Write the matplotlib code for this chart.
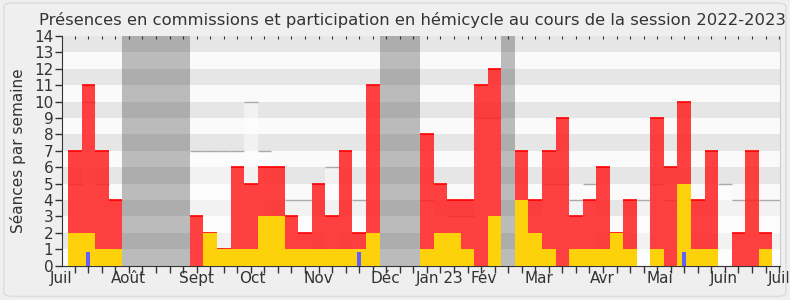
import numpy as np
import matplotlib
matplotlib.use('Agg')
import matplotlib.pyplot as plt
from matplotlib.patches import FancyBboxPatch
from matplotlib.transforms import blended_transform_factory

# one value per week, from the week of 4 July 2022
presences = [7, 11, 7, 4, 0, 0, 0, 0, 0, 3, 2, 1, 6, 5, 6, 6, 3, 2, 5, 3, 7, 2, 11, 0, 0, 0,
             8, 5, 4, 4, 11, 12, 0, 7, 4, 7, 9, 3, 4, 6, 2, 4, 0, 9, 6, 10, 4, 7, 0, 2, 7, 2, 0]
hemicycle = [2, 2, 1, 1, 0, 0, 0, 0, 0, 0, 2, 1, 1, 1, 3, 3, 1, 1, 1, 1, 1, 1, 2, 0, 0, 0,
             1, 2, 2, 1, 0, 3, 0, 4, 2, 1, 0, 1, 1, 1, 2, 1, 0, 1, 0, 5, 1, 1, 0, 0, 0, 1, 0]
questions = [0, 0.85, 0, 0, 0, 0, 0, 0, 0, 0, 0, 0, 0, 0, 0, 0, 0, 0, 0, 0, 0, 0.85, 0, 0, 0, 0,
             0, 0, 0, 0, 0, 0, 0, 0, 0, 0, 0, 0, 0, 0, 0, 0, 0, 0, 0, 0.85, 0, 0, 0, 0, 0, 0, 0]
mediane = [5, 10, 5, 4, 0, 0, 0, 0, 0, 7, 7, 7, 7, 10, 7, 0, 4, 4, 0, 6, 0, 4, 0, 0, 0, 0,
           4, 0, 3, 3, 9, 9, 0, 0, 0, 5, 5, 4, 5, 0, 0, 0, 4, 5, 4, 0, 0, 0, 5, 4, 4, 4, 4]
vacances = [(4, 9), (23, 26), (32, 33)]

mois = ['Juil', 'Août', 'Sept', 'Oct', 'Nov', 'Déc', 'Jan 23', 'Fév', 'Mar', 'Avr', 'Mai', 'Juin', 'Juil']
mois_pos = [-0.5, 4.45, 9.5, 13.6, 18.5, 23.45, 27.45, 30.7, 34.75, 39.45, 43.7, 48.45, 52.5]

x = np.arange(len(presences))
txt = '#333333'

fig = plt.figure(figsize=(7.9, 3.0), dpi=100, facecolor='#efefef')
fig.patches.append(FancyBboxPatch((0.005, 0.012), 0.99, 0.978, boxstyle='round,pad=0,rounding_size=0.012',
                                  transform=fig.transFigure, facecolor='none', edgecolor='#dcdcdc', lw=1))
ax = fig.add_axes([0.078, 0.1143, 0.909, 0.7657])

for k in range(14):
    ax.axhspan(k, k + 1, color='#e6e6e6' if k % 2 else '#fafafa', lw=0, zorder=0)

for a, b in vacances:
    ax.axvspan(a, b, color='#2a2a2a', alpha=0.3, lw=0, zorder=1)

med = np.array(mediane)
ax.bar(x, med, width=1, align='edge', color='white', alpha=0.5, lw=0, zorder=2)
m = med > 0
ax.hlines(med[m], x[m], x[m] + 1, color='#aaaaaa', lw=1, zorder=2)

pr = np.array(presences)
ax.bar(x, pr, width=1, align='edge', color='#ff1f1f', alpha=0.85, lw=0, zorder=3)
p = pr > 0
ax.hlines(pr[p], x[p], x[p] + 1, color='#ff0000', lw=1.2, zorder=3)

ax.bar(x, hemicycle, width=1, align='edge', color='#fdd20a', lw=0, zorder=4)
ax.bar(x + 0.5, questions, width=0.3, color='#6060ff', lw=0, zorder=5)

ax.set_xlim(-0.47, 52.55)
ax.set_ylim(0, 14)
ax.set_yticks(range(15))
ax.tick_params(axis='y', length=5, width=1, colors='#333333', labelsize=11, pad=1)
ax.set_xticks(x + 0.5)
ax.set_xticklabels([])
ax.tick_params(axis='x', which='major', length=5, width=1, color='#333333')

trans = blended_transform_factory(ax.transData, ax.transAxes)
for lab, pos in zip(mois, mois_pos):
    ax.text(pos, -0.025, lab, transform=trans, ha='center', va='top', fontsize=11, color=txt)

top = ax.secondary_xaxis('top')
top.set_xticks(x + 0.5)
top.set_xticklabels([])
top.tick_params(length=2, direction='in', color='#333333')
top.spines['top'].set_visible(False)

ax.spines['top'].set_visible(False)
ax.spines['right'].set_color('#cccccc')
ax.spines['left'].set_color('#333333')
ax.spines['bottom'].set_color('#333333')

ax.set_ylabel('Séances par semaine', fontsize=11, color=txt, labelpad=6)
fig.text(0.522, 0.905, 'Présences en commissions et participation en hémicycle au cours de la session 2022-2023',
         ha='center', va='bottom', fontsize=11.75, color=txt)

fig.savefig('out.png', dpi=100, facecolor=fig.get_facecolor())
